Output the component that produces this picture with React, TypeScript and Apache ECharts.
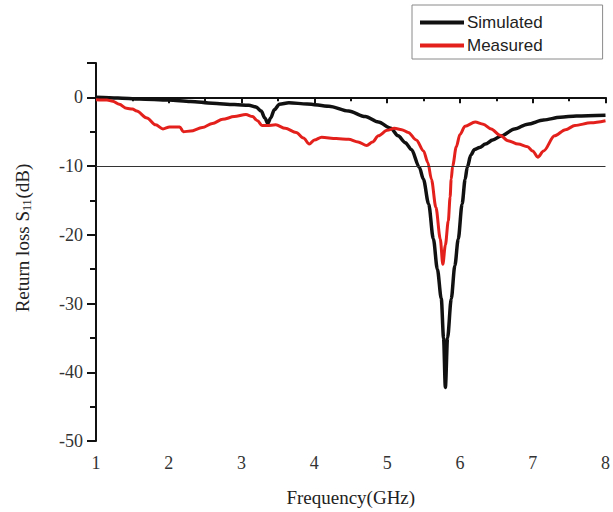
import React, { useEffect, useRef } from "react";
import * as echarts from "echarts";

const simulated: [number, number][] = [
  [1.0, 0], [1.3, -0.1], [1.6, -0.25], [2.0, -0.4], [2.3, -0.6], [2.6, -0.85], [2.9, -1.05],
  [3.1, -1.15], [3.2, -1.4], [3.27, -2.0], [3.32, -3.0], [3.36, -3.8], [3.4, -3.0], [3.45, -1.8],
  [3.52, -1.0], [3.65, -0.8], [3.9, -0.95], [4.2, -1.3], [4.47, -2.0], [4.7, -2.8], [4.88, -3.6],
  [5.05, -4.5], [5.15, -5.6], [5.25, -6.6], [5.334, -7.6], [5.443, -10.2], [5.498, -11.9],
  [5.57, -15.5], [5.635, -20.6], [5.69, -25], [5.744, -29.3], [5.775, -35], [5.80, -42.2],
  [5.83, -35], [5.881, -29.3], [5.93, -24.5], [5.977, -20.6], [6.03, -15.5], [6.072, -11.9],
  [6.1, -10.2], [6.15, -8.4], [6.2, -7.6], [6.27, -7.3], [6.35, -6.8], [6.45, -6.2], [6.57, -5.6],
  [6.75, -4.6], [6.93, -3.9], [7.15, -3.3], [7.38, -2.9], [7.6, -2.7], [8.0, -2.6],
];

const measured: [number, number][] = [
  [1.0, -0.35], [1.15, -0.4], [1.23, -0.55], [1.32, -1.0], [1.42, -1.6], [1.5, -1.7], [1.56, -2.0],
  [1.7, -3.0], [1.82, -4.0], [1.92, -4.6], [2.01, -4.3], [2.1, -4.3], [2.15, -4.3], [2.2, -5.0],
  [2.3, -4.9], [2.46, -4.4], [2.6, -3.8], [2.74, -3.2], [2.9, -2.8], [3.06, -2.5], [3.15, -2.8],
  [3.22, -3.4], [3.28, -4.1], [3.35, -4.1], [3.47, -4.0], [3.6, -4.5], [3.75, -5.1], [3.85, -5.9],
  [3.93, -6.8], [4.0, -6.2], [4.1, -5.8], [4.3, -6.0], [4.47, -6.1], [4.6, -6.5], [4.72, -7.0],
  [4.8, -6.5], [4.88, -5.6], [5.0, -4.8], [5.1, -4.5], [5.2, -4.7], [5.29, -5.1], [5.4, -6.2],
  [5.5, -7.8], [5.56, -9.5], [5.608, -11.9], [5.67, -16], [5.73, -20.6], [5.765, -24.3],
  [5.80, -21.5], [5.84, -18], [5.865, -14.5], [5.88, -11.9], [5.9, -10], [5.95, -7.2],
  [6.0, -5.4], [6.07, -4.2], [6.21, -3.6], [6.32, -3.9], [6.43, -4.6], [6.55, -5.5], [6.66, -6.3],
  [6.8, -6.8], [6.93, -7.2], [7.0, -7.8], [7.07, -8.7], [7.15, -7.8], [7.3, -5.6], [7.45, -4.7],
  [7.58, -4.1], [7.8, -3.7], [8.0, -3.4],
];

const seriesNames = ["Simulated", "Measured"];
const referenceLevel = -10;

export default function App() {
  const ref = useRef<HTMLDivElement>(null);
  useEffect(() => {
    if (!ref.current) return;
    const chart = echarts.init(ref.current, undefined, { renderer: "svg" });
    const serif = "Liberation Serif";
    const lineIcon = "path://M0,0 L44,0 L44,4 L0,4 Z";
    chart.setOption({
      animation: false,
      backgroundColor: "#ffffff",
      grid: { left: 96, right: 5, top: 63, bottom: 70 },
      legend: {
        orient: "vertical",
        left: 412,
        top: 5,
        width: 148,
        padding: [9, 60, 5, 8],
        itemGap: 6,
        itemWidth: 44,
        itemHeight: 4,
        borderColor: "#8a8a8a",
        borderWidth: 1,
        data: [
          { name: seriesNames[0], icon: lineIcon, itemStyle: { color: "#111111" } },
          { name: seriesNames[1], icon: lineIcon, itemStyle: { color: "#e3201b" } },
        ],
        textStyle: { fontFamily: "Liberation Sans", fontSize: 17, color: "#222", padding: [0, 0, 0, -2], height: 16, lineHeight: 16 },
      },
      graphic: [
        {
          type: "text",
          x: 22,
          y: 238,
          rotation: Math.PI / 2,
          style: {
            text: "Return loss S{sub|11}(dB)",
            fontFamily: serif,
            fontSize: 19,
            fill: "#222",
            align: "center",
            verticalAlign: "middle",
            rich: { sub: { fontFamily: serif, fontSize: 12, fill: "#222", padding: [9, 1, 0, 0] } },
          },
        },
      ],
      xAxis: {
        type: "value",
        min: 1,
        max: 8,
        interval: 1,
        name: "Frequency(GHz)",
        nameLocation: "middle",
        nameGap: 47,
        nameTextStyle: { fontFamily: serif, fontSize: 19, color: "#222" },
        axisLine: { lineStyle: { color: "#111", width: 2 } },
        axisTick: { inside: false, length: 6, lineStyle: { color: "#111", width: 2 } },
        minorTick: { show: true, splitNumber: 2, length: 4, lineStyle: { color: "#111", width: 2 } },
        axisLabel: { fontFamily: serif, fontSize: 18, color: "#333", margin: 13 },
        splitLine: { show: false },
      },
      yAxis: {
        type: "value",
        min: -50,
        max: 5,
        interval: 10,
        axisLine: { show: true, lineStyle: { color: "#111", width: 2 } },
        axisTick: { show: true, inside: false, length: 9, lineStyle: { color: "#111", width: 2 } },
        minorTick: { show: true, splitNumber: 2, length: 6, lineStyle: { color: "#111", width: 2 } },
        axisLabel: { fontFamily: serif, fontSize: 18, color: "#333", margin: 13, showMaxLabel: false },
        splitLine: { show: false },
      },
      series: [
        {
          name: seriesNames[0],
          type: "line",
          data: simulated,
          showSymbol: false,
          symbol: "none",
          smooth: 0.3,
          smoothMonotone: "x",
          lineStyle: { color: "#111111", width: 3.5, join: "round" },
          itemStyle: { color: "#111111" },
          z: 3,
          markLine: {
            silent: true,
            symbol: "none",
            label: { show: false },
            lineStyle: { color: "#333", width: 1, type: "solid" },
            data: [{ yAxis: referenceLevel }],
          },
        },
        {
          name: seriesNames[1],
          type: "line",
          data: measured,
          showSymbol: false,
          symbol: "none",
          smooth: 0.3,
          smoothMonotone: "x",
          lineStyle: { color: "#e3201b", width: 3, join: "round" },
          itemStyle: { color: "#e3201b" },
          z: 4,
        },
      ],
    });
    return () => chart.dispose();
  }, []);
  return (
    <div
      ref={ref}
      style={{ position: "fixed", left: 0, top: 0, width: 613, height: 512, background: "#fff" }}
    />
  );
}
